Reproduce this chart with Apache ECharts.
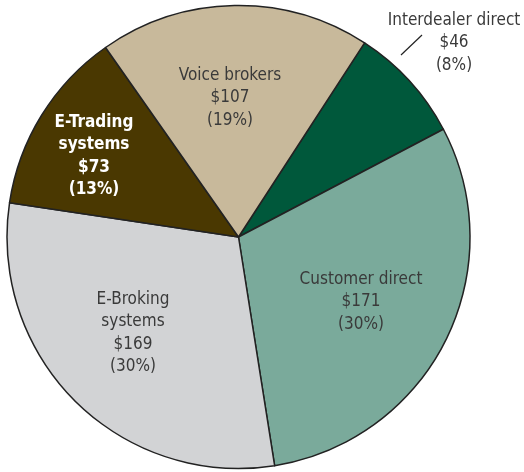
<!DOCTYPE html>
<html>
<head>
<meta charset="utf-8">
<script src="https://cdn.jsdelivr.net/npm/echarts@6/dist/echarts.min.js"></script>
<style>
  html, body { margin: 0; padding: 0; background: #fff; }
  #chart { width: 524px; height: 472px; }
</style>
</head>
<body>
<div id="chart"></div>
<script>
// segment names, values ($) and shares, clockwise from the small green slice
const names = ['Interdealer direct', 'Customer direct', 'E-Broking\nsystems', 'E-Trading\nsystems', 'Voice brokers']
const values = [46, 171, 169, 73, 107]
const shares = ['8%', '30%', '30%', '13%', '19%']

const colors = ['#00583b', '#7aaa9b', '#d2d3d5', '#4a3801', '#c8b99b']
// label centres
const labelPos = [[454, 43], [361, 302], [133, 333], [94, 156], [230, 98]]
// the little leader for the outside label
const leader = [[401, 55], [422, 35]]

const FONT = "'DejaVu Sans Condensed', 'Liberation Sans', sans-serif"

const chart = echarts.init(document.getElementById('chart'))

const data = names.map((n, i) => {
  const item = {
    name: n,
    value: values[i],
    itemStyle: { color: colors[i] },
    label: {
      formatter: n + '\n$' + values[i] + '\n(' + shares[i] + ')'
    }
  }
  if (i === 3) { // e-trading: white bold
    item.label.color = '#fff'
    item.label.fontWeight = 'bold'
  }
  if (i === 0) {
    item.label.position = 'outside'
    item.labelLine = { show: true, length: 30, length2: 0, lineStyle: { color: '#222', width: 1.2 } }
  }
  return item
})

chart.setOption({
  animation: false,
  series: [{
    type: 'pie',
    center: [238.5, 237],
    radius: 231.5,
    startAngle: 57,
    clockwise: true,
    avoidLabelOverlap: false,
    itemStyle: {
      borderColor: '#222',
      borderWidth: 1.5
    },
    label: {
      show: true,
      position: 'inside',
      color: '#3a3a3a',
      fontFamily: FONT,
      fontSize: 17,
      lineHeight: 22.5,
      align: 'center'
    },
    labelLine: { show: false },
    emphasis: { disabled: true },
    labelLayout: function (params) {
      const i = params.dataIndex
      const out = { x: labelPos[i][0], y: labelPos[i][1], align: 'center', verticalAlign: 'middle' }
      if (i === 0) {
        out.labelLinePoints = [leader[0], leader[1], leader[1]]
      }
      return out
    },
    data: data
  }]
})
</script>
</body>
</html>
